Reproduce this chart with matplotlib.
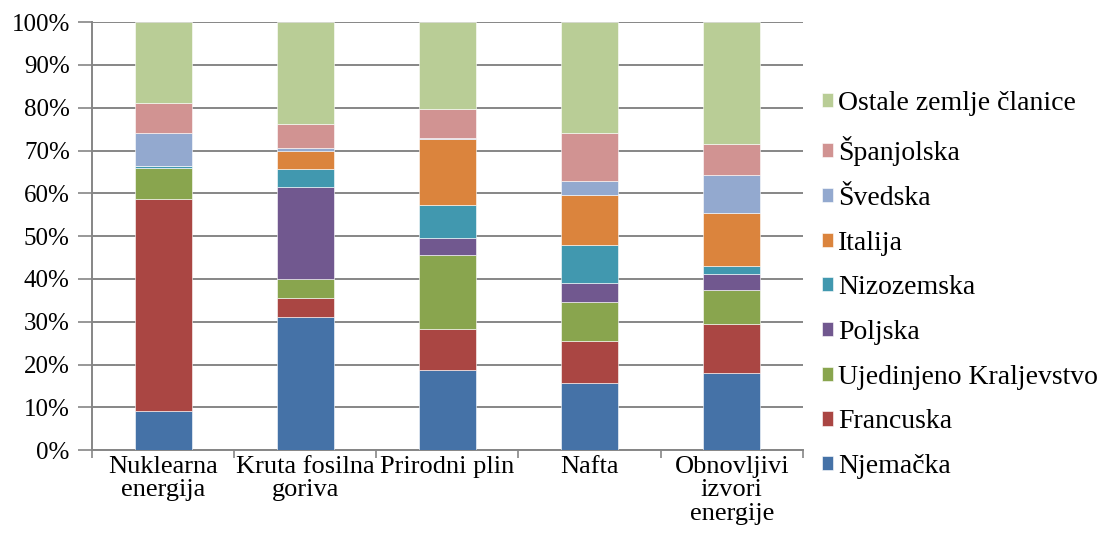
import numpy as np
import matplotlib.pyplot as plt
from matplotlib.ticker import FixedLocator, PercentFormatter

plt.rcParams['font.family'] = ['Liberation Serif', 'DejaVu Serif']

categories = ['Nuklearna\nenergija', 'Kruta fosilna\ngoriva', 'Prirodni plin',
              'Nafta', 'Obnovljivi\nizvori\nenergije']

# shares in % per country (bottom to top)
njemacka   = [9.2, 31.2, 18.8, 15.6, 18.1]
francuska  = [49.5, 4.3, 9.6, 9.9, 11.4]
uk         = [7.3, 4.5, 17.1, 9.1, 8.0]
poljska    = [0.0, 21.6, 4.0, 4.4, 3.7]
nizozemska = [0.3, 4.1, 7.7, 8.9, 1.9]
italija    = [0.0, 4.1, 15.4, 11.8, 12.4]
svedska    = [7.7, 0.7, 0.3, 3.3, 8.9]
spanjolska = [7.1, 5.6, 6.9, 11.2, 7.2]
ostale     = [18.9, 23.9, 20.2, 25.8, 28.4]

series = [
    ('Njemačka', njemacka, '#4572A7'),
    ('Francuska', francuska, '#AA4643'),
    ('Ujedinjeno Kraljevstvo', uk, '#89A54E'),
    ('Poljska', poljska, '#71588F'),
    ('Nizozemska', nizozemska, '#4198AF'),
    ('Italija', italija, '#DB843D'),
    ('Švedska', svedska, '#93A9CF'),
    ('Španjolska', spanjolska, '#D19392'),
    ('Ostale zemlje članice', ostale, '#B9CD96'),
]

fig = plt.figure(figsize=(11.15, 5.55), dpi=100)
ax = fig.add_axes([0.0825, 0.189, 0.6375, 0.771])

x = np.arange(len(categories))
bottom = np.zeros(len(categories))
handles = []
for name, vals, col in series:
    vals = np.array(vals)
    b = ax.bar(x, vals, 0.4, bottom=bottom, color=col, label=name,
               edgecolor='white', linewidth=0.4, zorder=3)
    handles.append(b)
    bottom += vals

ax.set_xlim(-0.5, len(categories) - 0.5)
ax.set_ylim(0, 100)
ax.set_yticks(np.arange(0, 101, 10))
ax.yaxis.set_major_formatter(PercentFormatter(decimals=0))
ax.yaxis.grid(True, color='#868686', linewidth=1.4, zorder=0)

ax.set_xticks(x)
ax.set_xticklabels(categories, linespacing=1.1)
ax.xaxis.set_minor_locator(FixedLocator(np.arange(-0.5, len(categories), 1.0)))
ax.tick_params(axis='x', which='major', length=0, pad=4, labelsize=19)
ax.tick_params(axis='x', which='minor', length=6, color='#868686', width=1.2)
ax.tick_params(axis='y', length=10, color='#868686', width=1.2, labelsize=18, pad=6)

for side in ['top', 'right']:
    ax.spines[side].set_visible(False)
for side in ['left', 'bottom']:
    ax.spines[side].set_color('#868686')
    ax.spines[side].set_linewidth(1.4)

fig.legend(handles[::-1], [s[0] for s in series][::-1], loc='center left',
           bbox_to_anchor=(0.737, 0.486), frameon=False, fontsize=20,
           handlelength=0.4, handleheight=0.4, handletextpad=0.2,
           labelspacing=0.71, borderpad=0, borderaxespad=0)

fig.savefig('out.png', dpi=100)
